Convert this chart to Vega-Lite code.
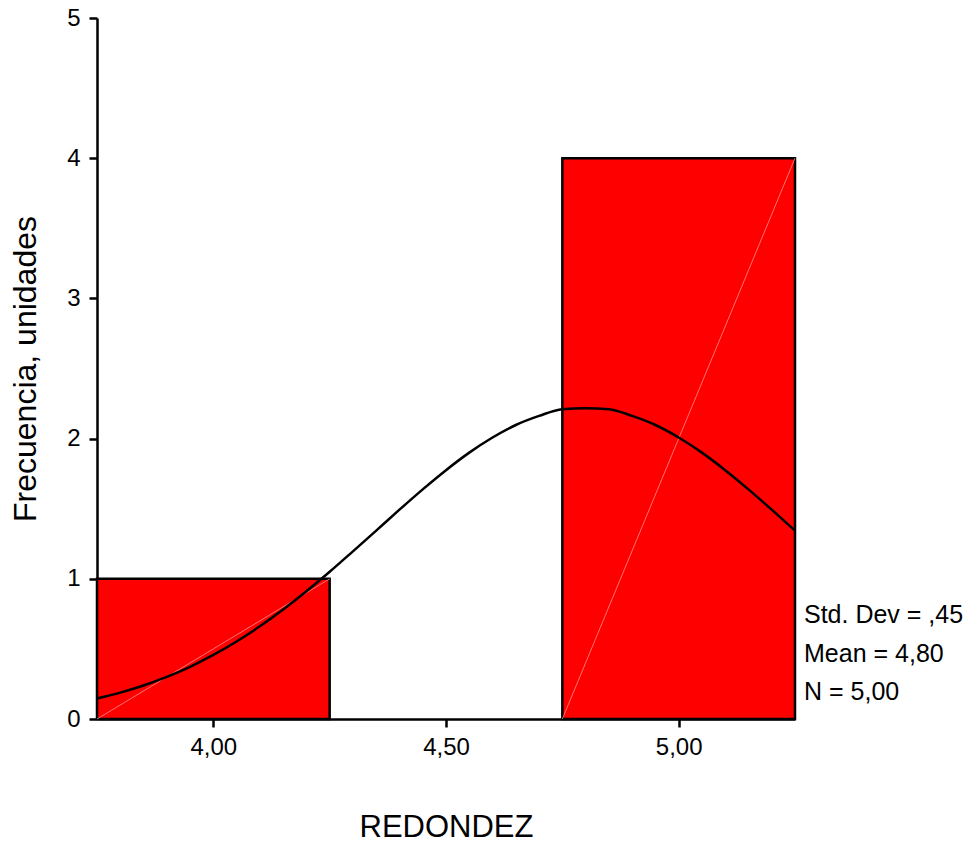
{
  "$schema": "https://vega.github.io/schema/vega-lite/v6.json",
  "autosize": "none",
  "width": 698,
  "height": 701,
  "padding": {"left": 97, "top": 18, "right": 178, "bottom": 124},
  "background": "white",
  "config": {
    "view": {"stroke": null},
    "font": "Liberation Sans",
    "axis": {
      "grid": false,
      "domainColor": "black",
      "domainWidth": 2.5,
      "tickColor": "black",
      "tickWidth": 2.5,
      "tickSize": 8,
      "labelColor": "black",
      "labelFont": "Liberation Sans",
      "labelFontSize": 24,
      "titleFont": "Liberation Sans",
      "titleFontWeight": "normal",
      "titleColor": "black",
      "titleFontSize": 31
    }
  },
  "datasets": {
    "bins": [
      {"bin_start": 3.75, "bin_end": 4.25, "base": 0, "count": 1},
      {"bin_start": 4.75, "bin_end": 5.25, "base": 0, "count": 4}
    ],
    "curve": [
      {"x": 3.75, "y": 0.146}, {"x": 3.80, "y": 0.188}, {"x": 3.85, "y": 0.239},
      {"x": 3.90, "y": 0.300}, {"x": 3.95, "y": 0.372}, {"x": 4.00, "y": 0.457},
      {"x": 4.05, "y": 0.553}, {"x": 4.10, "y": 0.661}, {"x": 4.15, "y": 0.781},
      {"x": 4.20, "y": 0.911}, {"x": 4.25, "y": 1.050}, {"x": 4.30, "y": 1.196},
      {"x": 4.35, "y": 1.344}, {"x": 4.40, "y": 1.493}, {"x": 4.45, "y": 1.638},
      {"x": 4.50, "y": 1.775}, {"x": 4.55, "y": 1.900}, {"x": 4.60, "y": 2.008},
      {"x": 4.65, "y": 2.097}, {"x": 4.70, "y": 2.162}, {"x": 4.75, "y": 2.210},
      {"x": 4.80, "y": 2.216}, {"x": 4.85, "y": 2.210}, {"x": 4.90, "y": 2.162},
      {"x": 4.95, "y": 2.097}, {"x": 5.00, "y": 2.008}, {"x": 5.05, "y": 1.900},
      {"x": 5.10, "y": 1.775}, {"x": 5.15, "y": 1.638}, {"x": 5.20, "y": 1.493},
      {"x": 5.25, "y": 1.344}
    ],
    "stats": [
      {"label": ["Std. Dev = ,45", "Mean = 4,80", "N = 5,00"], "xpos": 5.25, "ypos": 0}
    ]
  },
  "layer": [
    {
      "data": {"name": "bins"},
      "mark": {"type": "rect", "fill": "#ff0000", "stroke": "black", "strokeWidth": 2.5},
      "encoding": {
        "x": {
          "field": "bin_start", "type": "quantitative",
          "scale": {"domain": [3.75, 5.25], "nice": false, "zero": false},
          "axis": {
            "values": [4, 4.5, 5],
            "labelExpr": "replace(format(datum.value, '.2f'), '.', ',')",
            "labelPadding": 8,
            "title": "REDONDEZ",
            "titleBaseline": "alphabetic",
            "titleY": 117
          }
        },
        "x2": {"field": "bin_end"},
        "y": {
          "field": "count", "type": "quantitative",
          "scale": {"domain": [0, 5], "nice": false},
          "axis": {
            "values": [0, 1, 2, 3, 4, 5],
            "format": "d",
            "labelPadding": 9,
            "title": "Frecuencia, unidades",
            "titleX": -62,
            "titleBaseline": "alphabetic",
            "titleFontSize": 32
          }
        },
        "y2": {"field": "base"}
      }
    },
    {
      "data": {"name": "bins"},
      "mark": {"type": "rule", "color": "#ff9090", "strokeWidth": 0.8},
      "encoding": {
        "x": {"field": "bin_start", "type": "quantitative"},
        "x2": {"field": "bin_end"},
        "y": {"field": "base", "type": "quantitative"},
        "y2": {"field": "count"}
      }
    },
    {
      "data": {"name": "curve"},
      "mark": {"type": "line", "color": "black", "strokeWidth": 2.5, "interpolate": "monotone"},
      "encoding": {
        "x": {"field": "x", "type": "quantitative"},
        "y": {"field": "y", "type": "quantitative"}
      }
    },
    {
      "data": {"name": "stats"},
      "mark": {
        "type": "text", "align": "left", "baseline": "alphabetic",
        "fontSize": 25, "font": "Liberation Sans", "color": "black",
        "lineHeight": 38.5, "dx": 9, "dy": -96
      },
      "encoding": {
        "x": {"field": "xpos", "type": "quantitative"},
        "y": {"field": "ypos", "type": "quantitative"},
        "text": {"field": "label"}
      }
    }
  ]
}
